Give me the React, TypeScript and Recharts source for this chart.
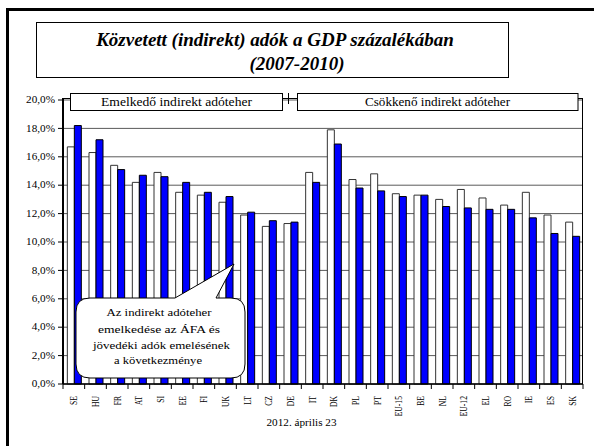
import React from 'react';
import { BarChart, Bar, XAxis, YAxis, CartesianGrid } from 'recharts';

const categories = ['SE', 'HU', 'FR', 'AT', 'SI', 'EE', 'FI', 'UK', 'LT', 'CZ', 'DE', 'IT', 'DK', 'PL', 'PT', 'EU-15', 'BE', 'NL', 'EU-12', 'EL', 'RO', 'IE', 'ES', 'SK'];
const values2007 = [16.7, 16.3, 15.4, 14.2, 14.9, 13.5, 13.3, 12.8, 11.9, 11.1, 11.3, 14.9, 17.9, 14.4, 14.8, 13.4, 13.3, 13.0, 13.7, 13.1, 12.6, 13.5, 11.9, 11.4];
const values2010 = [18.2, 17.2, 15.1, 14.7, 14.6, 14.2, 13.5, 13.2, 12.1, 11.5, 11.4, 14.2, 16.9, 13.8, 13.6, 13.2, 13.3, 12.5, 12.4, 12.3, 12.3, 11.7, 10.6, 10.4];
const yTicks = [0, 2, 4, 6, 8, 10, 12, 14, 16, 18, 20];
const titleLines = ['Közvetett (indirekt) adók a GDP százalékában', '(2007-2010)'];
const groupLabels = ['Emelkedő indirekt adóteher', 'Csökkenő indirekt adóteher'];
const calloutLines = ['Az indirekt adóteher', 'emelkedése az ÁFA és', 'jövedéki adók emelésének', 'a következménye'];
const footer = '2012. április 23';

const data = categories.map((c, i) => ({ name: c, y2007: values2007[i], y2010: values2010[i] }));

const W = 594;
const H = 446;
const PLOT_LEFT = 63;
const PLOT_RIGHT = 583;
const PLOT_TOP = 100;
const PLOT_BOTTOM = 384;
const FONT = "'Liberation Serif', 'Times New Roman', serif";
const BW = (PLOT_RIGHT - PLOT_LEFT) / categories.length;

const fmt = (v: number) => v.toFixed(1).replace('.', ',') + '%';

const YTick = (props: any) => {
  const { x, y, payload } = props;
  return (
    <text
      transform={`translate(${x},${y}) scale(1.12,1)`}
      textAnchor="end"
      dominantBaseline="central"
      style={{ fontFamily: FONT, fontSize: 10 }}
      fill="#000"
    >
      {fmt(payload.value)}
    </text>
  );
};

const XTick = (props: any) => {
  const { x, y, payload, index } = props;
  const last = index === categories.length - 1;
  return (
    <g>
      <line x1={x - BW / 2} y1={y} x2={x - BW / 2} y2={y + 5} stroke="#000" strokeWidth={1} />
      {last && <line x1={x + BW / 2} y1={y} x2={x + BW / 2} y2={y + 5} stroke="#000" strokeWidth={1} />}
      <text
        transform={`translate(${x},${y + 12}) rotate(-90) scale(0.85,1.2)`}
        textAnchor="end"
        dominantBaseline="central"
        style={{ fontFamily: FONT, fontSize: 9 }}
        fill="#000"
      >
        {payload.value}
      </text>
    </g>
  );
};

const Overlay = () => {
  const r = 14;
  const cx1 = 76, cx2 = 245, cy1 = 298, cy2 = 378;
  const callout = `M ${cx1 + r},${cy1} L 175,${cy1} L 234,264 L 216,${cy1} L ${cx2 - r},${cy1} Q ${cx2},${cy1} ${cx2},${cy1 + r} L ${cx2},${cy2 - r} Q ${cx2},${cy2} ${cx2 - r},${cy2} L ${cx1 + r},${cy2} Q ${cx1},${cy2} ${cx1},${cy2 - r} L ${cx1},${cy1 + r} Q ${cx1},${cy1} ${cx1 + r},${cy1} Z`;
  const calloutY = [316, 332.5, 349, 364];
  const calloutLen = [105, 122, 137, 88];
  const calloutCx = [159, 159, 161.5, 158];
  const titleStyle = { fontFamily: FONT, fontSize: 19, fontWeight: 'bold' as const, fontStyle: 'italic' as const };
  return (
    <svg width={W} height={H} style={{ position: 'absolute', left: 0, top: 0, pointerEvents: 'none' }}>
      <rect x={7.5} y={9.5} width={800} height={800} fill="none" stroke="#000" strokeWidth={3} />
      <rect x={36.5} y={22.5} width={472} height={55} fill="#fff" stroke="#000" strokeWidth={1} />
      <text x={275} y={46} textAnchor="middle" style={titleStyle} fill="#000">
        {titleLines[0]}
      </text>
      <text x={297} y={70} textAnchor="middle" style={titleStyle} fill="#000">
        {titleLines[1]}
      </text>
      <line x1={PLOT_LEFT} y1={98.5} x2={70} y2={98.5} stroke="#000" />
      <line x1={PLOT_LEFT} y1={98} x2={PLOT_LEFT} y2={PLOT_TOP} stroke="#000" strokeWidth={2} />
      <rect x={70.5} y={93.5} width={212} height={17} fill="#fff" stroke="#000" strokeWidth={1} />
      <text x={176.5} y={106} textAnchor="middle" style={{ fontFamily: FONT, fontSize: 11.5 }} textLength={151} lengthAdjust="spacingAndGlyphs" fill="#000">
        {groupLabels[0]}
      </text>
      <line x1={283} y1={98.5} x2={297} y2={98.5} stroke="#000" />
      <line x1={288.5} y1={93} x2={288.5} y2={104} stroke="#000" />
      <rect x={297.5} y={93.5} width={280.5} height={17} fill="#fff" stroke="#000" strokeWidth={1} />
      <text x={437.5} y={106} textAnchor="middle" style={{ fontFamily: FONT, fontSize: 11.5 }} textLength={145} lengthAdjust="spacingAndGlyphs" fill="#000">
        {groupLabels[1]}
      </text>
      <line x1={578} y1={98.5} x2={PLOT_RIGHT} y2={98.5} stroke="#000" />
      <line x1={PLOT_RIGHT - 0.5} y1={98} x2={PLOT_RIGHT - 0.5} y2={PLOT_BOTTOM} stroke="#000" />
      <path d={callout} fill="#fff" stroke="#000" strokeWidth={1} />
      {calloutLines.map((t, i) => (
        <text key={i} x={calloutCx[i]} y={calloutY[i]} textAnchor="middle" style={{ fontFamily: FONT, fontSize: 11 }} textLength={calloutLen[i]} lengthAdjust="spacingAndGlyphs" fill="#000">
          {t}
        </text>
      ))}
      <text x={301.5} y={426} textAnchor="middle" style={{ fontFamily: FONT, fontSize: 10 }} textLength={70} lengthAdjust="spacingAndGlyphs" fill="#000">
        {footer}
      </text>
    </svg>
  );
};

export default function App() {
  return (
    <div style={{ position: 'absolute', left: 0, top: 0, width: W, height: H, background: '#fff', overflow: 'hidden', fontFamily: FONT }}>
      <BarChart
        width={W}
        height={H}
        data={data}
        margin={{ top: PLOT_TOP, right: W - PLOT_RIGHT, bottom: 0, left: 0 }}
        barCategoryGap="20%"
        barGap={0}
      >
        <CartesianGrid vertical={false} stroke="#5a5a5a" strokeWidth={1} />
        <XAxis
          dataKey="name"
          height={H - PLOT_BOTTOM}
          interval={0}
          tickSize={0}
          tickMargin={0}
          tickLine={false}
          axisLine={{ stroke: '#000', strokeWidth: 1.5 }}
          tick={<XTick />}
        />
        <YAxis
          width={PLOT_LEFT}
          domain={[0, 20]}
          ticks={yTicks}
          interval={0}
          tickSize={5}
          tickMargin={3}
          tickLine={{ stroke: '#000' }}
          axisLine={{ stroke: '#000', strokeWidth: 2 }}
          tick={<YTick />}
        />
        <Bar dataKey="y2007" fill="#ffffff" stroke="#333" strokeWidth={1} isAnimationActive={false} />
        <Bar dataKey="y2010" fill="#0000ff" stroke="#000" strokeWidth={1} isAnimationActive={false} />
      </BarChart>
      <Overlay />
    </div>
  );
}
